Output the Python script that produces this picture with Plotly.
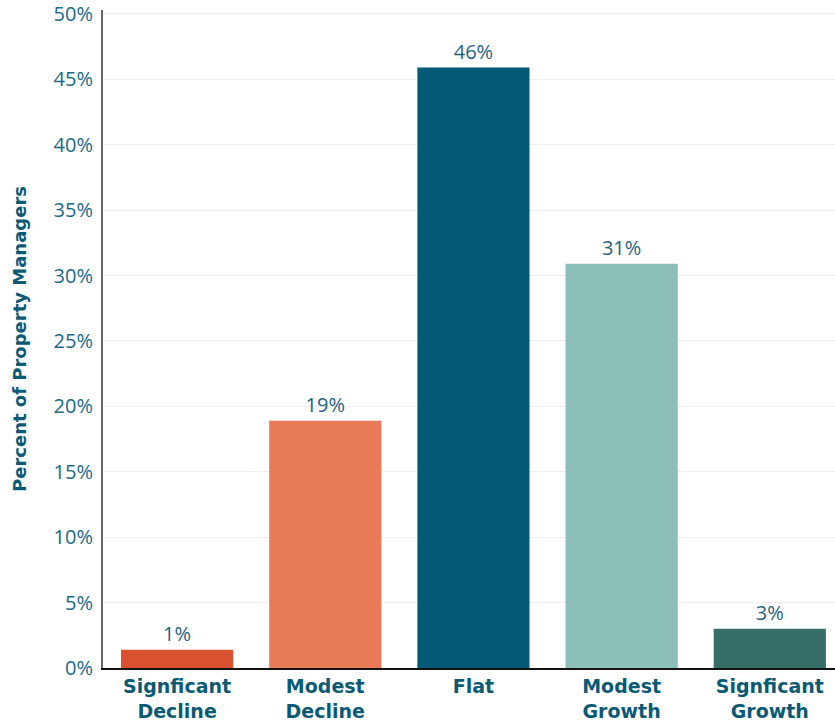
import plotly.graph_objects as go

categories = ["Signficant<br>Decline", "Modest<br>Decline", "Flat", "Modest<br>Growth", "Signficant<br>Growth"]
values = [1.4, 18.9, 45.9, 30.9, 3.0]
labels = ["1%", "19%", "46%", "31%", "3%"]
colors = ["#d9512f", "#e97a58", "#035a77", "#8bbfb8", "#356f67"]
tick_vals = [0, 5, 10, 15, 20, 25, 30, 35, 40, 45, 50]

fig = go.Figure(go.Bar(
    x=list(range(len(categories))),
    y=values,
    marker=dict(color=colors, line=dict(width=0)),
    text=labels,
    textposition="outside",
    cliponaxis=False,
    textfont=dict(family="Open Sans", size=20, color="#1f6280"),
    width=0.757,
))

fig.update_layout(
    width=835, height=727,
    margin=dict(l=103, r=0, t=10, b=59),
    plot_bgcolor="white", paper_bgcolor="white",
    showlegend=False,
    font=dict(family="Open Sans"),
)
fig.update_xaxes(
    range=[-0.5, 4.44],
    tickvals=list(range(len(categories))),
    ticktext=categories,
    tickfont=dict(family="DejaVu Sans", size=19, color="#0b5a75", weight="bold"),
    showline=True, linecolor="#111111", linewidth=2,
    showgrid=False, ticks="", fixedrange=True,
)
fig.update_yaxes(
    range=[0, 50.3],
    tickvals=tick_vals,
    ticktext=[f"{v}%" for v in tick_vals],
    tickfont=dict(family="Open Sans", size=20, color="#1a6a88"),
    ticklabeloverflow="allow",
    showline=True, linecolor="#666666", linewidth=2,
    showgrid=True, gridcolor="#eeeeee", gridwidth=1,
    zeroline=False, ticks="", ticklabelstandoff=4,
    title=dict(text="<b>Percent of Property Managers</b>",
               font=dict(family="DejaVu Sans", size=18, color="#0b5a75"),
               standoff=22),
)

fig.write_html("out.html")
